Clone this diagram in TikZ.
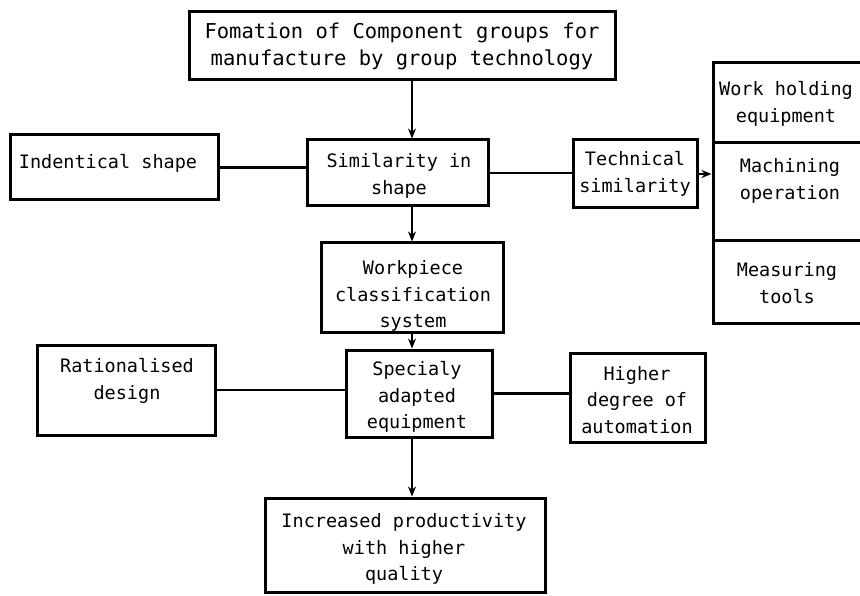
\documentclass[tikz,border=0pt]{standalone}
\usepackage{fontspec}
\setmainfont{DejaVu Sans Mono}
\usetikzlibrary{arrows.meta}
\tikzset{
  box/.style={draw, line width=3pt, inner sep=0pt, minimum width=#1},
  txt/.style={inner sep=0pt, align=center, font=\fontsize{18.5}{26.5}\selectfont},
  conn/.style={line width=2.6pt},
  arr/.style={line width=2.6pt, -{Stealth[length=10pt,width=8pt]}}
}
\begin{document}
\begin{tikzpicture}[x=1pt,y=-1pt]
\useasboundingbox (0,0) rectangle (860,596);
% boxes
\node[box=426pt, minimum height=68pt] (top) at (402,46) {};
\node[box=208pt, minimum height=65pt] (ident) at (114,167.5) {};
\node[box=181pt, minimum height=66pt] (sim) at (397.5,173) {};
\node[box=124pt, minimum height=68pt] (tech) at (635,174) {};
\node[box=150pt, minimum height=80pt] (r1) at (788,103) {};
\node[box=150pt, minimum height=98pt] (r2) at (788,192) {};
\node[box=150pt, minimum height=82pt] (r3) at (788,282) {};
\node[box=182pt, minimum height=89pt] (wp) at (412,287.5) {};
\node[box=178pt, minimum height=90pt] (rat) at (126,390) {};
\node[box=146pt, minimum height=87pt] (spec) at (419,393.5) {};
\node[box=135pt, minimum height=89pt] (high) at (637.5,397.5) {};
\node[box=280pt, minimum height=94pt] (inc) at (405,545) {};
% texts
\node[txt, font=\fontsize{20.5}{27}\selectfont] (ttop) at (402,46) {Fomation of Component groups for\\manufacture by group technology};
\node[txt] (tident) at (108,163) {Indentical shape};
\node[txt] (tsim) at (399,176) {Similarity in\\shape};
\node[txt] (ttech) at (635,174) {Technical\\similarity};
\node[txt] (tr1) at (786,104) {Work holding\\equipment};
\node[txt] (tr2) at (790,181) {Machining\\operation};
\node[txt] (tr3) at (787,283) {Measuring\\tools};
\node[txt] (twp) at (413,296) {Workpiece\\classification\\system};
\node[txt] (trat) at (127,381) {Rationalised\\design};
\node[txt] (tspec) at (417,397) {Specialy\\adapted\\equipment};
\node[txt] (thigh) at (637,400) {Higher\\degree of\\automation};
\node[txt] (tinc) at (404,549) {Increased productivity\\with higher\\quality};
% connectors
\draw[arr] (top.south -| wp.north) -- (sim.north -| wp.north);
\draw[conn] (ident.east) -- (ident.east -| sim.west);
\draw[conn] (sim.east) -- (sim.east -| tech.west);
\draw[arr] (tech.east) -- (tech.east -| r2.west);
\draw[arr] (sim.south -| wp.north) -- (wp.north);
\draw[arr] (wp.south) -- (wp.south |- spec.north);
\draw[conn] (rat.east) -- (rat.east -| spec.west);
\draw[conn] (spec.east) -- (spec.east -| high.west);
\draw[arr] (spec.south -| wp.north) -- (inc.north -| wp.north);
\end{tikzpicture}
\end{document}
